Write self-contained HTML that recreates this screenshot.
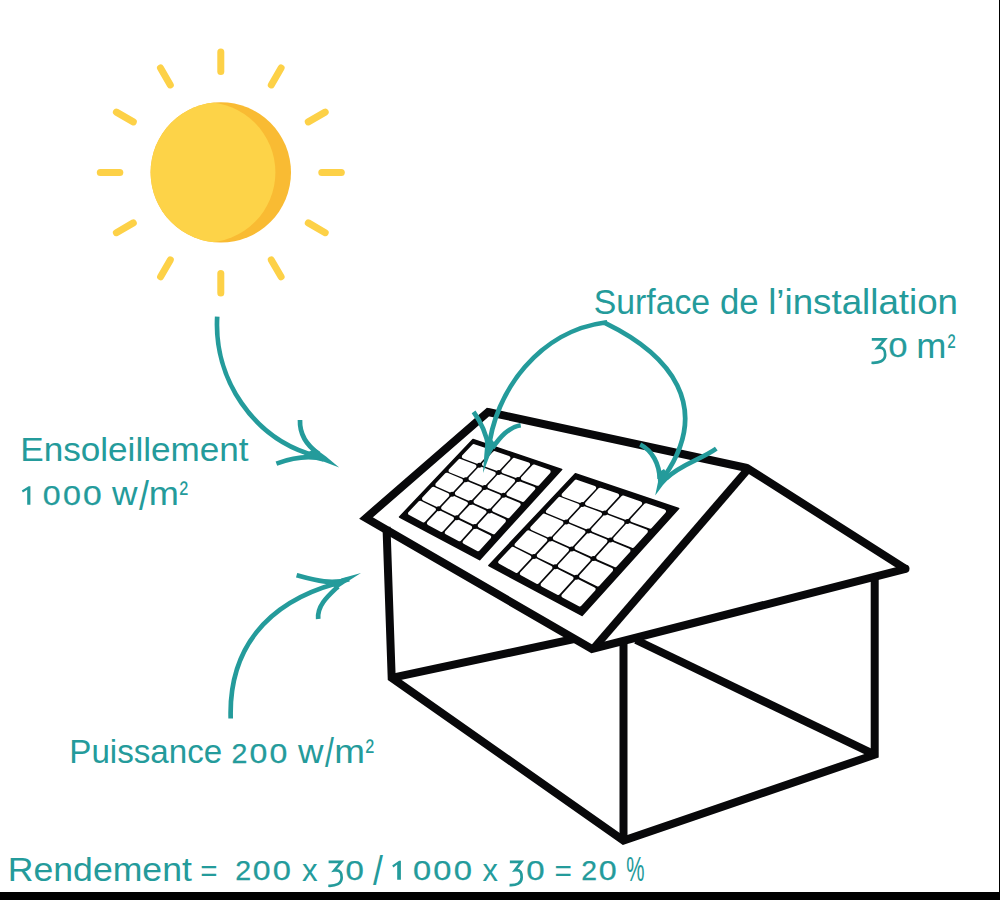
<!DOCTYPE html>
<html><head><meta charset="utf-8"><style>
html,body{margin:0;padding:0;background:#fff;}
body{width:1000px;height:900px;position:relative;overflow:hidden;}
svg{position:absolute;left:0;top:0;}
text{font-family:"Liberation Sans",sans-serif;fill:#249b9b;}
</style></head><body>
<svg width="1000" height="900" viewBox="0 0 1000 900">
<rect x="0" y="0" width="1000" height="900" fill="#fff"/>
<g stroke="#fdd147" stroke-width="7.0" stroke-linecap="round">
<line x1="321.8" y1="172.4" x2="341.3" y2="172.4"/>
<line x1="308.3" y1="222.9" x2="325.2" y2="232.7"/>
<line x1="271.3" y1="259.9" x2="281.1" y2="276.8"/>
<line x1="220.8" y1="273.4" x2="220.8" y2="292.9"/>
<line x1="170.3" y1="259.9" x2="160.6" y2="276.8"/>
<line x1="133.3" y1="222.9" x2="116.4" y2="232.7"/>
<line x1="119.8" y1="172.4" x2="100.3" y2="172.4"/>
<line x1="133.3" y1="121.9" x2="116.4" y2="112.1"/>
<line x1="170.3" y1="84.9" x2="160.5" y2="68.0"/>
<line x1="220.8" y1="71.4" x2="220.8" y2="51.9"/>
<line x1="271.3" y1="84.9" x2="281.1" y2="68.0"/>
<line x1="308.3" y1="121.9" x2="325.2" y2="112.1"/>
</g>
<circle cx="220.8" cy="172.4" r="70.2" fill="#f9bb33"/>
<clipPath id="sc"><circle cx="220.8" cy="172.4" r="70.2"/></clipPath>
<circle cx="205.20000000000002" cy="172.4" r="70.2" fill="#fdd348" clip-path="url(#sc)"/>

<g fill="none" stroke="#08080a" stroke-width="8.0" stroke-linejoin="miter" stroke-miterlimit="2">
<polyline points="488,412 747,468 905.5,568.8 592,649 592,649 366,518 488,412 747,468"/>
<polyline points="386.5,527 391.7,677.8 623.5,840.5 874.7,754.7 874.7,574"/>
<line x1="749" y1="468" x2="594" y2="648"/>
<line x1="391.7" y1="677.8" x2="574" y2="639"/>
<line x1="623.5" y1="840.5" x2="623.5" y2="639"/>
<line x1="636" y1="640" x2="874.7" y2="754.7"/>
</g>
<circle cx="905.5" cy="568.8" r="4" fill="#08080a"/>
<g>
<polygon points="473.0,439.6 561.6,469.4 479.6,559.6 399.6,517.0" fill="#08080a" stroke="#08080a" stroke-width="1.6" stroke-linejoin="round"/>
<g fill="#fff" stroke="#fff" stroke-width="4.0" stroke-linejoin="round">
<polygon points="473.8,446.1 488.7,451.2 478.4,462.1 463.8,456.7"/>
<polygon points="494.5,453.1 508.4,457.8 497.9,469.2 484.1,464.2"/>
<polygon points="514.1,459.8 528.1,464.5 517.3,476.3 503.5,471.3"/>
<polygon points="533.8,466.5 548.7,471.6 537.6,483.8 522.9,478.4"/>
<polygon points="459.9,460.8 474.5,466.3 464.9,476.5 450.5,470.7"/>
<polygon points="480.1,468.4 493.8,473.6 483.9,484.2 470.5,478.7"/>
<polygon points="499.4,475.7 513.1,480.9 503.0,491.9 489.5,486.4"/>
<polygon points="518.7,483.0 533.3,488.5 522.9,499.9 508.5,494.1"/>
<polygon points="446.7,474.7 461.0,480.7 451.4,490.9 437.3,484.7"/>
<polygon points="466.5,483.0 479.9,488.6 470.0,499.2 456.8,493.3"/>
<polygon points="485.4,490.9 498.8,496.4 488.7,507.4 475.5,501.6"/>
<polygon points="504.3,498.7 518.6,504.7 508.2,516.1 494.1,509.9"/>
<polygon points="433.4,488.7 447.4,495.1 437.8,505.3 424.0,498.6"/>
<polygon points="452.8,497.6 465.9,503.5 456.1,514.2 443.2,507.9"/>
<polygon points="471.4,506.0 484.5,512.0 474.4,523.0 461.4,516.7"/>
<polygon points="489.9,514.4 503.9,520.8 493.5,532.3 479.7,525.6"/>
<polygon points="420.2,502.7 433.9,509.5 423.6,520.4 410.1,513.3"/>
<polygon points="439.2,512.2 452.0,518.5 441.5,529.9 428.9,523.2"/>
<polygon points="457.3,521.2 470.2,527.5 459.4,539.3 446.7,532.6"/>
<polygon points="475.5,530.2 489.2,537.0 478.1,549.2 464.6,542.1"/>
</g>
<g fill="#08080a">
<circle cx="479.3" cy="465.2" r="2.5"/>
<circle cx="498.7" cy="472.4" r="2.5"/>
<circle cx="518.0" cy="479.6" r="2.5"/>
<circle cx="465.7" cy="479.7" r="2.5"/>
<circle cx="484.7" cy="487.5" r="2.5"/>
<circle cx="503.6" cy="495.3" r="2.5"/>
<circle cx="452.1" cy="494.2" r="2.5"/>
<circle cx="470.7" cy="502.6" r="2.5"/>
<circle cx="489.3" cy="510.9" r="2.5"/>
<circle cx="438.5" cy="508.7" r="2.5"/>
<circle cx="456.7" cy="517.7" r="2.5"/>
<circle cx="474.9" cy="526.6" r="2.5"/>
</g>
<polygon points="575.4,473.8 678.6,508.4 582.0,615.4 488.9,565.5" fill="#08080a" stroke="#08080a" stroke-width="1.6" stroke-linejoin="round"/>
<g fill="#fff" stroke="#fff" stroke-width="4.0" stroke-linejoin="round">
<polygon points="576.1,481.6 594.2,487.8 581.4,501.4 563.6,494.9"/>
<polygon points="600.0,489.7 617.1,495.5 604.0,509.7 587.1,503.5"/>
<polygon points="622.9,497.5 640.1,503.3 626.6,518.0 609.7,511.8"/>
<polygon points="645.9,505.2 664.0,511.4 650.2,526.7 632.3,520.1"/>
<polygon points="559.7,498.9 577.5,505.6 565.4,518.6 547.9,511.5"/>
<polygon points="583.1,507.8 600.0,514.1 587.5,527.6 571.0,520.9"/>
<polygon points="605.6,516.2 622.5,522.6 609.7,536.6 593.1,529.8"/>
<polygon points="628.1,524.7 645.9,531.4 632.7,545.9 615.2,538.8"/>
<polygon points="544.0,515.6 561.5,522.8 549.4,535.8 532.2,528.1"/>
<polygon points="567.0,525.1 583.5,532.0 571.1,545.5 554.8,538.2"/>
<polygon points="589.0,534.3 605.5,541.1 592.7,555.1 576.5,547.9"/>
<polygon points="611.1,543.4 628.5,550.7 615.3,565.2 598.2,557.6"/>
<polygon points="528.4,532.2 545.4,540.0 533.3,553.0 516.5,544.8"/>
<polygon points="550.8,542.5 567.0,549.9 554.6,563.3 538.7,555.6"/>
<polygon points="572.4,552.3 588.6,559.7 575.8,573.7 559.9,565.9"/>
<polygon points="594.0,562.2 611.1,569.9 597.9,584.5 581.1,576.3"/>
<polygon points="512.7,548.9 529.4,557.2 516.6,570.9 500.2,562.1"/>
<polygon points="534.7,559.8 550.5,567.7 537.4,581.9 521.8,573.6"/>
<polygon points="555.8,570.4 571.6,578.2 558.2,593.0 542.6,584.7"/>
<polygon points="577.0,580.9 593.7,589.2 579.8,604.5 563.4,595.8"/>
</g>
<g fill="#08080a">
<circle cx="582.3" cy="504.6" r="2.5"/>
<circle cx="604.8" cy="513.0" r="2.5"/>
<circle cx="627.4" cy="521.4" r="2.5"/>
<circle cx="566.2" cy="521.9" r="2.5"/>
<circle cx="588.3" cy="530.9" r="2.5"/>
<circle cx="610.4" cy="540.0" r="2.5"/>
<circle cx="550.1" cy="539.1" r="2.5"/>
<circle cx="571.7" cy="548.9" r="2.5"/>
<circle cx="593.4" cy="558.6" r="2.5"/>
<circle cx="534.0" cy="556.4" r="2.5"/>
<circle cx="555.2" cy="566.8" r="2.5"/>
<circle cx="576.4" cy="577.3" r="2.5"/>
</g>
</g>

<g fill="none" stroke="#249b9b" stroke-width="4.7" stroke-linecap="butt">
<path d="M217.2,316.7 C213.7,378.3 252.7,439.3 316,456"/>
<path d="M300,420 C299.5,434 306,445 319,454"/>
<path d="M276.4,463.6 C292,458 310,455 324,459.5"/>
<path d="M230.7,718.5 C228.5,649.4 266.3,603.0 336,583.5"/>
<path d="M296.6,575.2 C313.2,579.7 331.1,585.3 349,579.2"/>
<path d="M318.2,619.0 C316.9,605.3 328.5,595.6 338,586.5"/>
<path d="M488.2,453 C494,389 541.7,330.7 605.1,322.5 L605.3,323.2 C670.1,354.7 712.9,406.6 664,477"/>
<path d="M473.6,411.9 C481.0,422.2 486.5,434.1 488.7,448"/>
<path d="M520.7,425.2 C508.5,427.2 500.0,437.3 492.5,448"/>
<path d="M640.2,444.5 C652.3,450.6 659.4,464.1 659.7,479"/>
<path d="M716.3,448.6 C700.6,459.7 681.1,464.0 666,478.5"/>
</g>
<g fill="#249b9b">
<path d="M304,454.5 L315,448.5 L326,456.4 L339.2,467.5 L322,461 Z"/>
<path d="M330,584.5 L342,578.2 L361,573 L346,582.5 L337,588.5 Z"/>
<path d="M485.5,441 L490.5,438 L496,444.5 L489.5,456 L483,473 L484.3,455 Z"/>
<path d="M657.6,473 L664,469 L670,477.5 L663,485 L655.2,495.6 L658,482 Z"/>
</g>

<text x="593.69" y="313.70" font-size="35" textLength="116.42" lengthAdjust="spacingAndGlyphs">Surface</text>
<text x="720.02" y="313.70" font-size="35" textLength="38.59" lengthAdjust="spacingAndGlyphs">de</text>
<text x="768.20" y="313.70" font-size="35" textLength="189.86" lengthAdjust="spacingAndGlyphs">l’installation</text>
<text x="888.44" y="357.00" font-size="27.5" stroke="#249b9b" stroke-width="0.25" textLength="18.91" lengthAdjust="spacingAndGlyphs">0</text>
<text x="916.24" y="357.50" font-size="35" textLength="30.13" lengthAdjust="spacingAndGlyphs">m</text>
<text x="947.62" y="356.80" font-size="32" textLength="7.99" lengthAdjust="spacingAndGlyphs">²</text>
<text x="20.26" y="461.30" font-size="34" textLength="228.37" lengthAdjust="spacingAndGlyphs">Ensoleillement</text>
<text x="42.75" y="504.50" font-size="27.5" stroke="#249b9b" stroke-width="0.25" textLength="17.85" lengthAdjust="spacingAndGlyphs">0</text>
<text x="62.99" y="504.50" font-size="27.5" stroke="#249b9b" stroke-width="0.25" textLength="17.91" lengthAdjust="spacingAndGlyphs">0</text>
<text x="82.95" y="504.50" font-size="27.5" stroke="#249b9b" stroke-width="0.25" textLength="18.69" lengthAdjust="spacingAndGlyphs">0</text>
<text x="112.05" y="505.00" font-size="33" textLength="25.52" lengthAdjust="spacingAndGlyphs">w</text>
<text x="139.00" y="509.90" font-size="41.5" textLength="9.88" lengthAdjust="spacingAndGlyphs">/</text>
<text x="148.74" y="505.00" font-size="33" textLength="30.13" lengthAdjust="spacingAndGlyphs">m</text>
<text x="179.60" y="504.30" font-size="32" textLength="8.53" lengthAdjust="spacingAndGlyphs">²</text>
<text x="69.31" y="763.00" font-size="33.5" textLength="152.93" lengthAdjust="spacingAndGlyphs">Puissance</text>
<text x="231.46" y="762.50" font-size="27.5" stroke="#249b9b" stroke-width="0.25" textLength="15.90" lengthAdjust="spacingAndGlyphs">2</text>
<text x="249.40" y="762.50" font-size="27.5" stroke="#249b9b" stroke-width="0.25" textLength="17.80" lengthAdjust="spacingAndGlyphs">0</text>
<text x="269.60" y="762.50" font-size="27.5" stroke="#249b9b" stroke-width="0.25" textLength="17.80" lengthAdjust="spacingAndGlyphs">0</text>
<text x="298.05" y="763.00" font-size="33" textLength="25.52" lengthAdjust="spacingAndGlyphs">w</text>
<text x="325.00" y="767.40" font-size="41.3" textLength="8.89" lengthAdjust="spacingAndGlyphs">/</text>
<text x="334.20" y="763.00" font-size="33" textLength="30.71" lengthAdjust="spacingAndGlyphs">m</text>
<text x="365.60" y="761.80" font-size="32" textLength="8.53" lengthAdjust="spacingAndGlyphs">²</text>
<text x="7.82" y="880.50" font-size="33.5" textLength="184.06" lengthAdjust="spacingAndGlyphs">Rendement</text>
<text x="200.21" y="880.50" font-size="29" textLength="17.29" lengthAdjust="spacingAndGlyphs">=</text>
<text x="235.16" y="880.00" font-size="27.5" stroke="#249b9b" stroke-width="0.25" textLength="15.90" lengthAdjust="spacingAndGlyphs">2</text>
<text x="252.80" y="880.00" font-size="27.5" stroke="#249b9b" stroke-width="0.25" textLength="17.80" lengthAdjust="spacingAndGlyphs">0</text>
<text x="272.88" y="880.00" font-size="27.5" stroke="#249b9b" stroke-width="0.25" textLength="18.13" lengthAdjust="spacingAndGlyphs">0</text>
<text x="301.90" y="880.50" font-size="31" textLength="15.60" lengthAdjust="spacingAndGlyphs">x</text>
<text x="345.47" y="880.00" font-size="27.5" stroke="#249b9b" stroke-width="0.25" textLength="18.35" lengthAdjust="spacingAndGlyphs">0</text>
<text x="373.00" y="884.90" font-size="41.5" textLength="9.88" lengthAdjust="spacingAndGlyphs">/</text>
<text x="413.08" y="880.00" font-size="27.5" stroke="#249b9b" stroke-width="0.25" textLength="18.13" lengthAdjust="spacingAndGlyphs">0</text>
<text x="433.18" y="880.00" font-size="27.5" stroke="#249b9b" stroke-width="0.25" textLength="18.13" lengthAdjust="spacingAndGlyphs">0</text>
<text x="453.88" y="880.00" font-size="27.5" stroke="#249b9b" stroke-width="0.25" textLength="18.24" lengthAdjust="spacingAndGlyphs">0</text>
<text x="482.50" y="880.50" font-size="31" textLength="15.40" lengthAdjust="spacingAndGlyphs">x</text>
<text x="526.37" y="880.00" font-size="27.5" stroke="#249b9b" stroke-width="0.25" textLength="18.35" lengthAdjust="spacingAndGlyphs">0</text>
<text x="554.60" y="880.50" font-size="29" textLength="17.40" lengthAdjust="spacingAndGlyphs">=</text>
<text x="581.37" y="880.00" font-size="27.5" stroke="#249b9b" stroke-width="0.25" textLength="15.78" lengthAdjust="spacingAndGlyphs">2</text>
<text x="598.69" y="880.00" font-size="27.5" stroke="#249b9b" stroke-width="0.25" textLength="17.91" lengthAdjust="spacingAndGlyphs">0</text>
<text x="626.36" y="880.50" font-size="35" textLength="18.25" lengthAdjust="spacingAndGlyphs">%</text>
<path fill="#249b9b" d="M27.2,504.8 L27.2,489.8 L22.9,492.5 L21.8,490.5 L28.6,486.3 L30.4,486.3 L30.4,504.8 Z"/>
<path fill="#249b9b" d="M397.2,879.8 L397.2,864.6 L393.4,867.6 L392.2,865.6 L399.1,860.8 L400.9,860.8 L400.9,879.8 Z"/>
<path fill="none" stroke="#249b9b" stroke-width="2.7" stroke-linejoin="miter" d="M871.80,339.35 L884.85,339.35 L877.63,347.81 C884.36,347.01 885.15,350.72 885.15,354.96 C885.15,360.79 879.16,363.15 871.50,362.75"/>
<path fill="none" stroke="#249b9b" stroke-width="2.7" stroke-linejoin="miter" d="M328.60,861.85 L341.35,861.85 L334.30,870.49 C340.90,869.68 341.65,873.46 341.65,877.78 C341.65,883.72 335.80,886.15 328.30,885.75"/>
<path fill="none" stroke="#249b9b" stroke-width="2.7" stroke-linejoin="miter" d="M509.85,861.85 L521.35,861.85 L515.02,870.27 C521.08,869.48 521.65,873.17 521.65,877.40 C521.65,883.20 516.40,885.55 509.55,885.15"/>

<rect x="999" y="0" width="1" height="900" fill="#000"/>
<rect x="0" y="892" width="1000" height="8" fill="#000"/>
</svg>
</body></html>
